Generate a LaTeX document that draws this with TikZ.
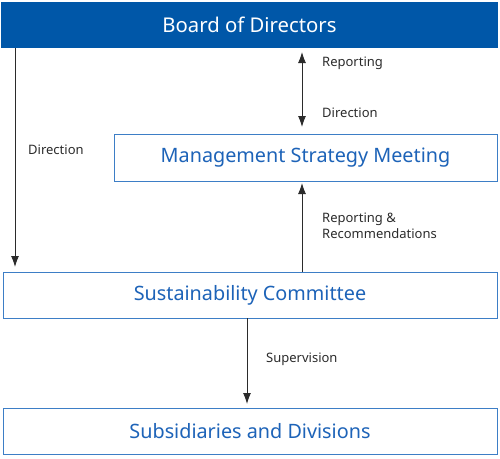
\documentclass[tikz,border=0pt]{standalone}
\usepackage{fontspec}
\setmainfont{Noto Sans}
\usetikzlibrary{arrows.meta}
\definecolor{boardblue}{HTML}{0057A8}
\definecolor{boxline}{HTML}{3D7EC6}
\definecolor{boxtext}{HTML}{1D63B8}
\definecolor{arr}{HTML}{2B2B2B}
\tikzset{
  x=1pt,y=-1pt,
  box/.style={draw=boxline,line width=1pt,fill=white,inner sep=0pt,text=boxtext,font=\fontsize{19.8}{22}\selectfont},
  lbl/.style={text=arr,font=\fontsize{13}{15.5}\selectfont,inner sep=0pt,anchor=west},
  conn/.style={draw=arr,line width=0.9pt,-{Latex[length=11pt,width=8pt]}},
  conn2/.style={draw=arr,line width=0.9pt,{Latex[length=11pt,width=8pt]}-{Latex[length=11pt,width=8pt]}}
}
\begin{document}
\begin{tikzpicture}
\useasboundingbox (0,0) rectangle (500,458);
\node[fill=boardblue,minimum width=497pt,minimum height=46pt,inner sep=0pt,text=white,font=\fontsize{20.3}{22}\selectfont] (board) at (249.5,25) {Board of Directors};
\node[box,minimum width=383pt,minimum height=47pt] (msm) at (305.5,157.5) {Management Strategy Meeting};
\node[box,minimum width=494pt,minimum height=46pt] (sc) at (250,295) {Sustainability Committee};
\node[box,minimum width=494pt,minimum height=46pt] (sub) at (250,431.5) {Subsidiaries and Divisions};
\coordinate (lt) at (15,48);
\coordinate (lb) at (15,267);
\coordinate (dt) at (302,52);
\coordinate (db) at (302,127);
\coordinate (rt) at (302,183);
\coordinate (rb) at (302,272);
\coordinate (st) at (247,318);
\coordinate (sb) at (247,404);
\draw[conn] (lt) -- (lb);
\draw[conn2] (dt) -- (db);
\draw[conn] (rb) -- (rt);
\draw[conn] (st) -- (sb);
\node[lbl] (l1) at (322,63) {Reporting};
\node[lbl] (l2) at (322,113) {Direction};
\node[lbl] (l3) at (28,150) {Direction};
\node[lbl,align=left] (l4) at (322,226) {Reporting \&\\Recommendations};
\node[lbl] (l5) at (266,359) {Supervision};
\end{tikzpicture}
\end{document}
